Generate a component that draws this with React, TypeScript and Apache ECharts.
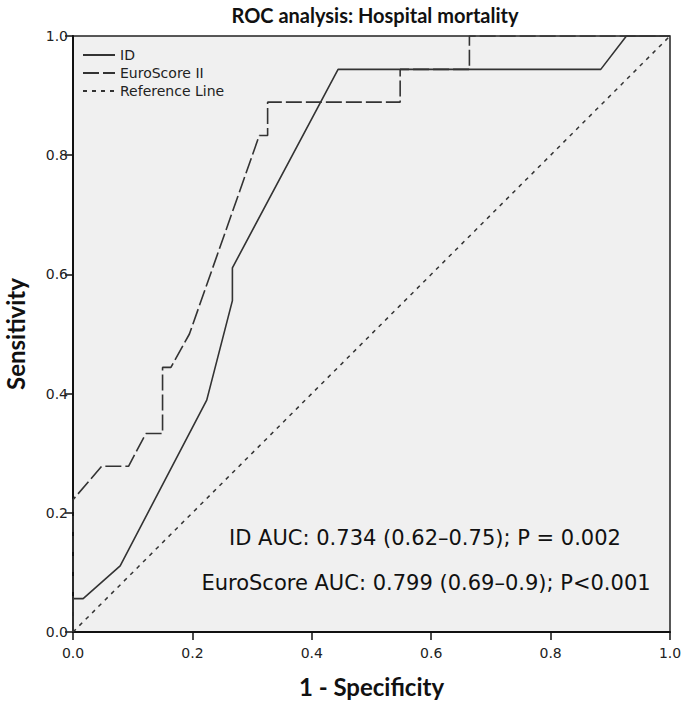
import React, { useEffect, useRef } from "react";
import * as echarts from "echarts";

const tickValues = [0, 0.2, 0.4, 0.6, 0.8, 1.0];

const idX = [0, 0, 0.017, 0.079, 0.224, 0.267, 0.267, 0.444, 0.884, 0.927, 1];
const idY = [0, 0.056, 0.056, 0.111, 0.389, 0.556, 0.611, 0.944, 0.944, 1, 1];

const euroX = [0, 0, 0.048, 0.093, 0.122, 0.15, 0.15, 0.164, 0.195, 0.312, 0.326, 0.326, 0.548, 0.548, 0.664, 0.664, 1];
const euroY = [0, 0.222, 0.278, 0.278, 0.333, 0.333, 0.444, 0.444, 0.5, 0.833, 0.833, 0.889, 0.889, 0.944, 0.944, 1, 1];

const refX = [0, 1];
const refY = [0, 1];

const seriesNames = ["ID", "EuroScore II", "Reference Line"];
const annotations = [
  "ID AUC: 0.734 (0.62–0.75); P = 0.002",
  "EuroScore AUC: 0.799 (0.69–0.9); P<0.001",
];

const zip = (xs: number[], ys: number[]) => xs.map((x, i) => [x, ys[i]]);

export default function App() {
  const ref = useRef<HTMLDivElement>(null);
  useEffect(() => {
    if (!ref.current) return;
    const chart = echarts.init(ref.current, null, { renderer: "svg" });
    const lineColor = "#333333";
    const axisCommon = {
      type: "value" as const,
      min: 0,
      max: 1,
      interval: 0.2,
      splitLine: { show: false },
      axisLine: { show: true, onZero: false, lineStyle: { color: "#111", width: 2 } },
      axisTick: { show: true, length: 8, lineStyle: { color: "#111", width: 1.5 } },
      axisLabel: {
        formatter: (v: number) => v.toFixed(1),
        color: "#222",
        fontFamily: "DejaVu Sans",
        fontSize: 14,
      },
      nameLocation: "middle" as const,
      nameTextStyle: {
        fontFamily: "Lato",
        fontWeight: "bold" as const,
        fontSize: 24,
        color: "#111",
      },
    };
    chart.setOption({
      animation: false,
      backgroundColor: "#ffffff",
      title: {
        text: "ROC analysis: Hospital mortality",
        left: 370,
        top: 0,
        textAlign: "center",
        textStyle: {
          fontFamily: "Lato",
          fontWeight: "bold",
          fontSize: 20,
          color: "#111",
        },
      },
      grid: {
        left: 73,
        right: 15,
        top: 36,
        bottom: 70,
        containLabel: false,
        outerBoundsMode: "none",
        show: true,
        backgroundColor: "#f0f0f0",
        borderColor: "#222",
        borderWidth: 1.5,
      },
      legend: {
        orient: "vertical",
        left: 77,
        top: 43,
        itemWidth: 32,
        itemHeight: 12,
        itemGap: 4,
        data: seriesNames,
        itemStyle: { opacity: 0 },
        textStyle: { fontFamily: "DejaVu Sans", fontSize: 14, color: "#222" },
      },
      xAxis: {
        ...axisCommon,
        name: "1 - Specificity",
        nameGap: 42,
        axisLabel: { ...axisCommon.axisLabel, margin: 14 },
      },
      yAxis: {
        ...axisCommon,
        name: "Sensitivity",
        nameGap: 46,
        axisLabel: { ...axisCommon.axisLabel, margin: 5 },
      },
      graphic: [
        {
          type: "text",
          x: 425,
          y: 538,
          style: {
            text: annotations[0],
            fontFamily: "DejaVu Sans",
            fontSize: 21,
            fill: "#111",
            align: "center",
            verticalAlign: "middle",
          },
        },
        {
          type: "text",
          x: 426,
          y: 583,
          style: {
            text: annotations[1],
            fontFamily: "DejaVu Sans",
            fontSize: 21,
            fill: "#111",
            align: "center",
            verticalAlign: "middle",
          },
        },
      ],
      series: [
        {
          name: seriesNames[0],
          type: "line",
          data: zip(idX, idY),
          symbol: "none",
          lineStyle: { color: lineColor, width: 1.6, type: "solid" },
          itemStyle: { color: lineColor },
        },
        {
          name: seriesNames[1],
          type: "line",
          data: zip(euroX, euroY),
          symbol: "none",
          lineStyle: { color: lineColor, width: 1.6, type: [16, 4] },
          itemStyle: { color: lineColor },
        },
        {
          name: seriesNames[2],
          type: "line",
          data: zip(refX, refY),
          symbol: "none",
          lineStyle: { color: lineColor, width: 1.5, type: [4, 5] },
          itemStyle: { color: lineColor },
        },
      ],
    });
    return () => chart.dispose();
  }, []);
  return <div ref={ref} style={{ width: 685, height: 702, position: "absolute", left: 0, top: 0 }} />;
}
